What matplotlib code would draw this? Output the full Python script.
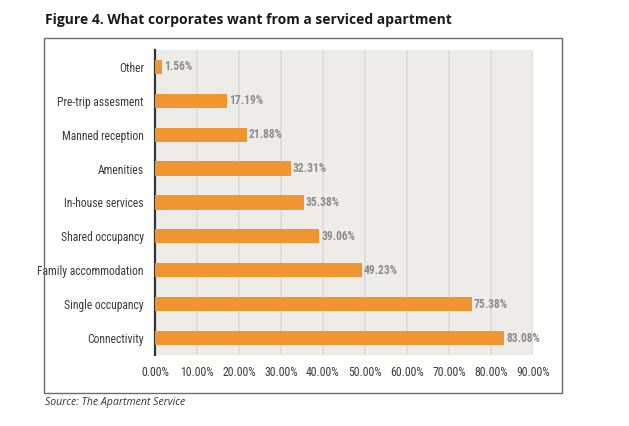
import numpy as np
import matplotlib.pyplot as plt
from matplotlib.patches import Rectangle
from matplotlib import font_manager
from matplotlib.font_manager import FontProperties

categories = ['Connectivity', 'Single occupancy', 'Family accommodation', 'Shared occupancy',
              'In-house services', 'Amenities', 'Manned reception', 'Pre-trip assesment', 'Other']
values = [83.08, 75.38, 49.23, 39.06, 35.38, 32.31, 21.88, 17.19, 1.56]
xticks = np.arange(0, 91, 10)


def narrow_font(bold, size):
    # look for any narrow / condensed face installed
    order = ['Liberation Sans Narrow', 'Roboto Condensed', 'Open Sans Condensed', 'DejaVu Sans']
    best = None
    for f in font_manager.fontManager.ttflist:
        cond = ('Narrow' in f.name or 'Condensed' in f.name
                or f.stretch in ('condensed', 'semi-condensed', 'extra-condensed'))
        if not cond or f.style != 'normal':
            continue
        w = f.weight if isinstance(f.weight, int) else (700 if 'bold' in str(f.weight) else 400)
        rank = order.index(f.name) if f.name in order else len(order)
        score = (rank, abs(w - (700 if bold else 400)))
        if best is None or score < best[0]:
            best = (score, f.fname)
    if best is not None:
        return FontProperties(fname=best[1], size=size)
    return FontProperties(family='Roboto', weight='bold' if bold else 'normal', size=size)


lab_font = narrow_font(False, 8.4)
tick_font = narrow_font(False, 8.5)
val_font = narrow_font(True, 8.3)

fig = plt.figure(figsize=(6.29, 4.26), dpi=100)
fig.patch.set_facecolor('white')

# outer frame
fig.patches.append(Rectangle((0.07, 0.0775), 0.8235, 0.8333, transform=fig.transFigure,
                             fill=False, edgecolor='#6b6b6b', linewidth=1.0))

ax = fig.add_axes([0.2464, 0.1667, 0.601, 0.716])
ax.set_facecolor('#edece9')
y = np.arange(len(categories))
ax.barh(y, values, height=0.42, color='#f0952f', zorder=3)
for yi, v in zip(y, values):
    ax.text(v + 0.5, yi, f'{v:.2f}%', va='center', ha='left', fontproperties=val_font,
            color='#8c8c8c', zorder=4)

ax.set_xlim(0, 90)
ax.set_ylim(-0.5, 8.5)
ax.set_yticks(y)
ax.set_yticklabels(categories, fontproperties=lab_font, color='#3a3a3a')
ax.set_xticks(xticks)
ax.set_xticklabels([f'{t:.2f}%' for t in xticks], fontproperties=tick_font, color='#3a3a3a')
ax.tick_params(axis='both', length=0)
ax.tick_params(axis='y', pad=8)
ax.tick_params(axis='x', pad=8)
ax.grid(axis='x', color='#dcdbd7', linewidth=1.2, zorder=1)
ax.set_axisbelow(True)
for s in ['top', 'right', 'bottom']:
    ax.spines[s].set_visible(False)
ax.spines['left'].set_color('#333333')
ax.spines['left'].set_linewidth(1.6)

fig.text(0.0715, 0.953, 'Figure 4. What corporates want from a serviced apartment',
         fontsize=10, fontweight='bold', family='Open Sans', color='#1a1a1a', va='center')
fig.text(0.0715, 0.056, 'Source: The Apartment Service', fontsize=7.6, style='italic',
         family='Open Sans', color='#333333', va='center')

fig.savefig('out.png', dpi=100)
